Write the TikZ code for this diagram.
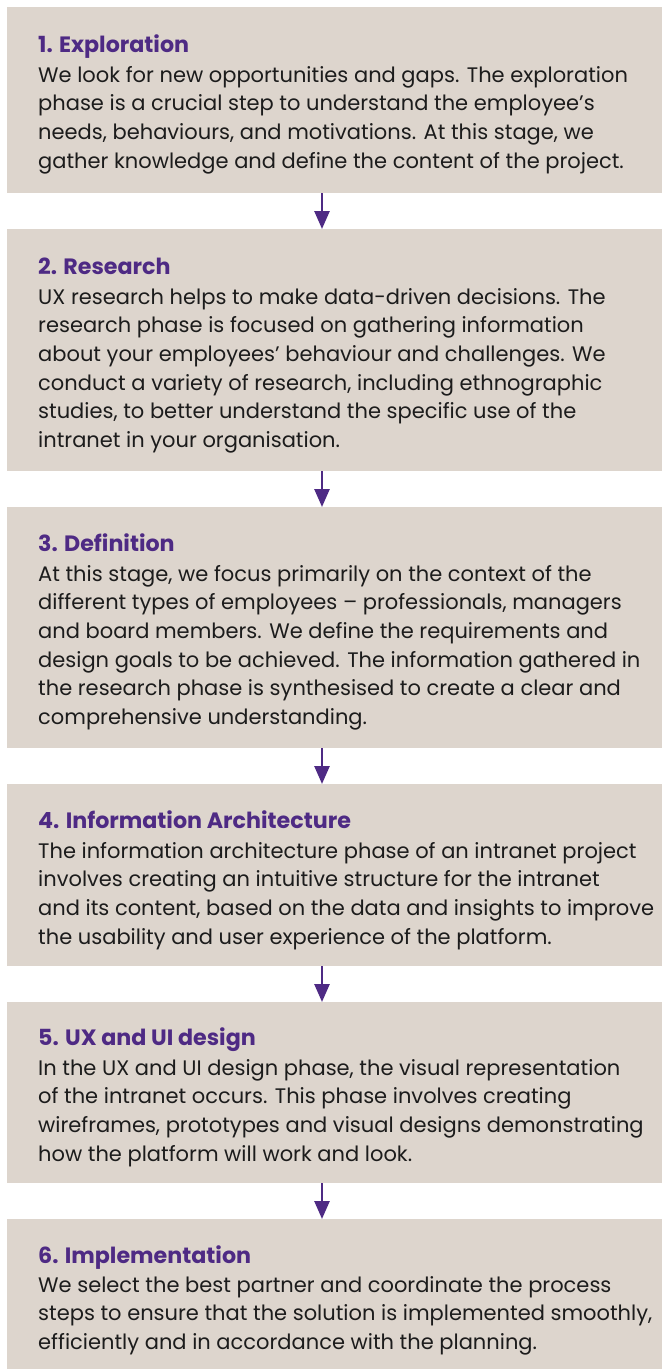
\documentclass[tikz,border=0pt]{standalone}
\usepackage{fontspec}
\setmainfont{Poppins}
\usetikzlibrary{arrows.meta}
\definecolor{boxfill}{HTML}{DDD5CD}
\definecolor{stagepurple}{HTML}{4E2A84}
\definecolor{bodytext}{HTML}{1C1C1C}
\newcommand\linesblock[1]{\vtop{\hsize=720pt\parindent=0pt\raggedright #1}}
\tikzset{
  stagebox/.style={draw=none, fill=boxfill, anchor=north west, inner sep=0pt, minimum width=655pt},
  stagetitle/.style={anchor=base west, inner sep=0pt, text=stagepurple, font=\fontsize{22.2}{28.7}\selectfont\bfseries},
  stagebody/.style={anchor=base west, inner sep=0pt, text=bodytext, font=\fontsize{21}{28.7}\selectfont},
  flow/.style={draw=stagepurple, line width=2.6pt, -{Triangle[width=15pt,length=18pt]}}
}
\begin{document}
\begin{tikzpicture}[x=1pt,y=-1pt]
\useasboundingbox (0,0) rectangle (662,1369);
% boxes
\node[stagebox, minimum height=186pt] (b1) at (7,7) {};
\node[stagebox, minimum height=242pt] (b2) at (7,229) {};
\node[stagebox, minimum height=241pt] (b3) at (7,507) {};
\node[stagebox, minimum height=182pt] (b4) at (7,784) {};
\node[stagebox, minimum height=181pt] (b5) at (7,1002) {};
\node[stagebox, minimum height=160pt] (b6) at (7,1219) {};
% titles
\node[stagetitle] (t1) at (38,52) {1. Exploration};
\node[stagetitle] (t2) at (38,274) {2. Research};
\node[stagetitle] (t3) at (38,551) {3. Definition};
\node[stagetitle] (t4) at (38,828) {4. Information Architecture};
\node[stagetitle] (t5) at (38,1045) {5. UX and UI design};
\node[stagetitle] (t6) at (38,1263) {6. Implementation};
% bodies
\node[stagebody] (d1) at (38,82) {\linesblock{We look for new opportunities and gaps. The exploration\\phase is a crucial step to understand the employee’s\\needs, behaviours, and motivations. At this stage, we\\gather knowledge and define the content of the project.}};
\node[stagebody] (d2) at (38,304) {\linesblock{UX research helps to make data-driven decisions. The\\research phase is focused on gathering information\\about your employees’ behaviour and challenges. We\\conduct a variety of research, including ethnographic\\studies, to better understand the specific use of the\\intranet in your organisation.}};
\node[stagebody] (d3) at (38,581) {\linesblock{At this stage, we focus primarily on the context of the\\different types of employees – professionals, managers\\and board members. We define the requirements and\\design goals to be achieved. The information gathered in\\the research phase is synthesised to create a clear and\\comprehensive understanding.}};
\node[stagebody] (d4) at (38,858) {\linesblock{The information architecture phase of an intranet project\\involves creating an intuitive structure for the intranet\\and its content, based on the data and insights to improve\\the usability and user experience of the platform.}};
\node[stagebody] (d5) at (38,1075) {\linesblock{In the UX and UI design phase, the visual representation\\of the intranet occurs. This phase involves creating\\wireframes, prototypes and visual designs demonstrating\\how the platform will work and look.}};
\node[stagebody] (d6) at (38,1292) {\linesblock{We select the best partner and coordinate the process\\steps to ensure that the solution is implemented smoothly,\\efficiently and in accordance with the planning.}};
% arrows
\draw[flow] (b1.south -| 322,0) -- (b2.north -| 322,0);
\draw[flow] (b2.south -| 322,0) -- (b3.north -| 322,0);
\draw[flow] (b3.south -| 322,0) -- (b4.north -| 322,0);
\draw[flow] (b4.south -| 322,0) -- (b5.north -| 322,0);
\draw[flow] (b5.south -| 322,0) -- (b6.north -| 322,0);
\end{tikzpicture}
\end{document}
